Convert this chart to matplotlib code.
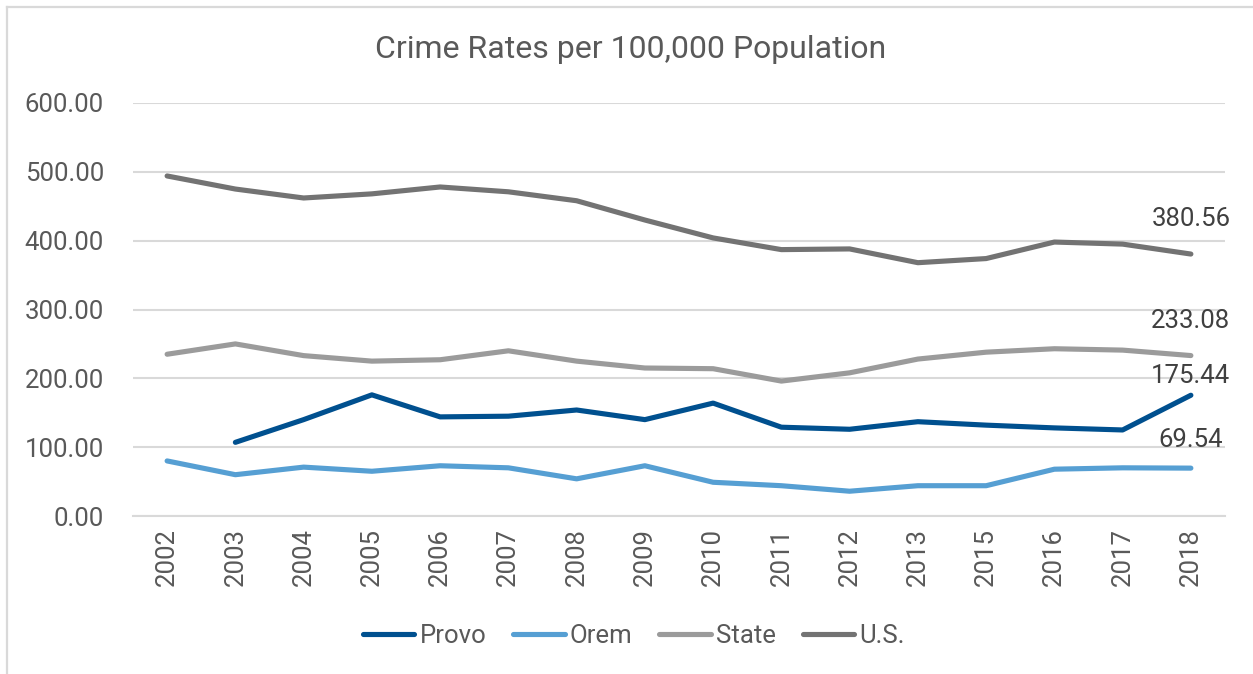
import matplotlib
matplotlib.use("Agg")
import matplotlib.pyplot as plt
from matplotlib.lines import Line2D
import numpy as np

plt.rcParams['font.family'] = ['Roboto', 'DejaVu Sans']

years = ['2002', '2003', '2004', '2005', '2006', '2007', '2008', '2009',
         '2010', '2011', '2012', '2013', '2015', '2016', '2017', '2018']

provo = [np.nan, 107, 140, 176, 144, 145, 154, 140, 164, 129, 126, 137, 132, 128, 125, 175.44]
orem = [80, 60, 71, 65, 73, 70, 54, 73, 49, 44, 36, 44, 44, 68, 70, 69.54]
state = [235, 250, 233, 225, 227, 240, 225, 215, 214, 196, 208, 228, 238, 243, 241, 233.08]
us = [494, 475, 462, 468, 478, 471, 458, 430, 404, 387, 388, 368, 374, 398, 395, 380.56]

series = [
    ('Provo', provo, '#00508F'),
    ('Orem', orem, '#569FD3'),
    ('State', state, '#9B9B9B'),
    ('U.S.', us, '#737373'),
]
label_offsets = {'Provo': 19, 'Orem': 28, 'State': 35, 'U.S.': 35}

text_color = '#595959'
grid_color = '#D9D9D9'
fs = 18.5

fig = plt.figure(figsize=(12.53, 6.74), dpi=100)
W, H = 1253, 674
ax = fig.add_axes([133 / W, 1 - 516 / H, (1225 - 133) / W, (516 - 103) / H])

x = np.arange(len(years))
for name, vals, color in series:
    ax.plot(x, vals, color=color, lw=3.7, solid_capstyle='round',
            solid_joinstyle='round', label=name)
    ax.annotate(f'{vals[-1]:.2f}', xy=(x[-1], vals[-1]),
                xytext=(0, label_offsets[name]), textcoords='offset pixels',
                ha='center', va='center', fontsize=fs, color='#404040')

ax.set_xlim(-0.5, len(years) - 0.5)
ax.set_ylim(0, 600)
ax.set_yticks(np.arange(0, 601, 100))
ax.set_yticklabels([f'{v:.2f}' for v in np.arange(0, 601, 100)])
ax.set_xticks(x)
ax.set_xticklabels(years, rotation=90)
ax.tick_params(axis='both', length=0, labelsize=fs, labelcolor=text_color)
ax.tick_params(axis='y', pad=21)
ax.tick_params(axis='x', pad=9)
ax.grid(axis='y', color=grid_color, lw=1.5)
ax.set_axisbelow(True)
for s in ['top', 'right', 'left']:
    ax.spines[s].set_visible(False)
ax.spines['bottom'].set_color(grid_color)
ax.spines['bottom'].set_linewidth(1.5)

fig.text(631 / W, 1 - 50 / H, 'Crime Rates per 100,000 Population',
         ha='center', va='center', fontsize=23, color=text_color)

fig.legend(loc='center', bbox_to_anchor=(634 / W, 1 - 636 / H), ncol=4,
           frameon=False, fontsize=fs, handlelength=2.0, handletextpad=0.2,
           columnspacing=1.05, labelcolor=text_color)

# chart frame
fig.add_artist(Line2D([6.5 / W, 1], [1 - 6.5 / H, 1 - 6.5 / H], color=grid_color, lw=1.6,
                      transform=fig.transFigure))
fig.add_artist(Line2D([6.5 / W, 6.5 / W], [0, 1 - 6.5 / H], color=grid_color, lw=1.6,
                      transform=fig.transFigure))

fig.savefig('out.png', dpi=100, facecolor='white')
